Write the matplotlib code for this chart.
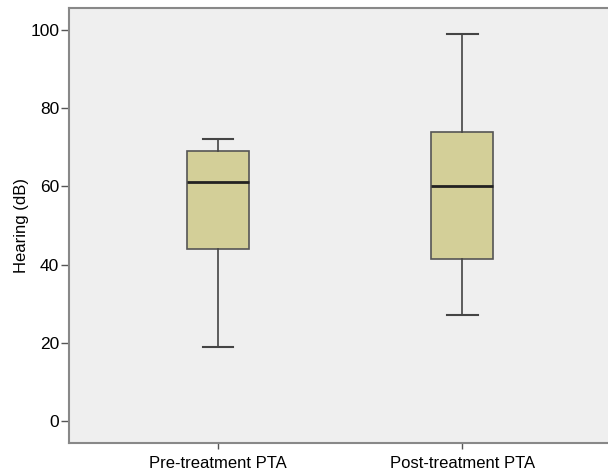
import matplotlib
matplotlib.use("Agg")
import matplotlib.pyplot as plt

categories = ["Pre-treatment PTA", "Post-treatment PTA"]
whislo = [19, 27]
q1 = [44, 41.5]
med = [61, 60]
q3 = [69, 74]
whishi = [72, 99]
yticks = [0, 20, 40, 60, 80, 100]

plt.rcParams['font.family'] = ['Liberation Sans', 'DejaVu Sans']

fig = plt.figure(figsize=(6.08, 4.71), dpi=100)
ax = fig.add_axes([69/608, 1-443/471, 1-69/608, (443-8)/471])
ax.set_facecolor('#efefef')

stats = []
for i, c in enumerate(categories):
    stats.append(dict(label=c, whislo=whislo[i], q1=q1[i], med=med[i], q3=q3[i], whishi=whishi[i], fliers=[]))

ax.bxp(stats, positions=[1, 2], widths=0.2536, patch_artist=True, showfliers=False,
       boxprops=dict(facecolor='#d3cf98', edgecolor='#555555', linewidth=1.2),
       medianprops=dict(color='#222222', linewidth=2.0),
       whiskerprops=dict(color='#444444', linewidth=1.2),
       capprops=dict(color='#444444', linewidth=1.5),
       capwidths=0.125)

ax.set_xlim(0.391, 2.595)
ax.set_ylim(-5.6, 105.6)
ax.set_yticks(yticks)
ax.set_xticks([1, 2])
ax.set_xticklabels(categories, fontsize=12)
ax.tick_params(axis='y', labelsize=12.5, length=6, pad=1, color='#555555', width=1)
ax.tick_params(axis='x', length=4, pad=5, color='#555555', width=1)
ax.set_ylabel("Hearing (dB)", fontsize=12, labelpad=1)

for s in ['left', 'bottom', 'top']:
    ax.spines[s].set_color('#888888')
    ax.spines[s].set_linewidth(1.5)
ax.spines['right'].set_visible(False)

fig.savefig("out.png", dpi=100)
